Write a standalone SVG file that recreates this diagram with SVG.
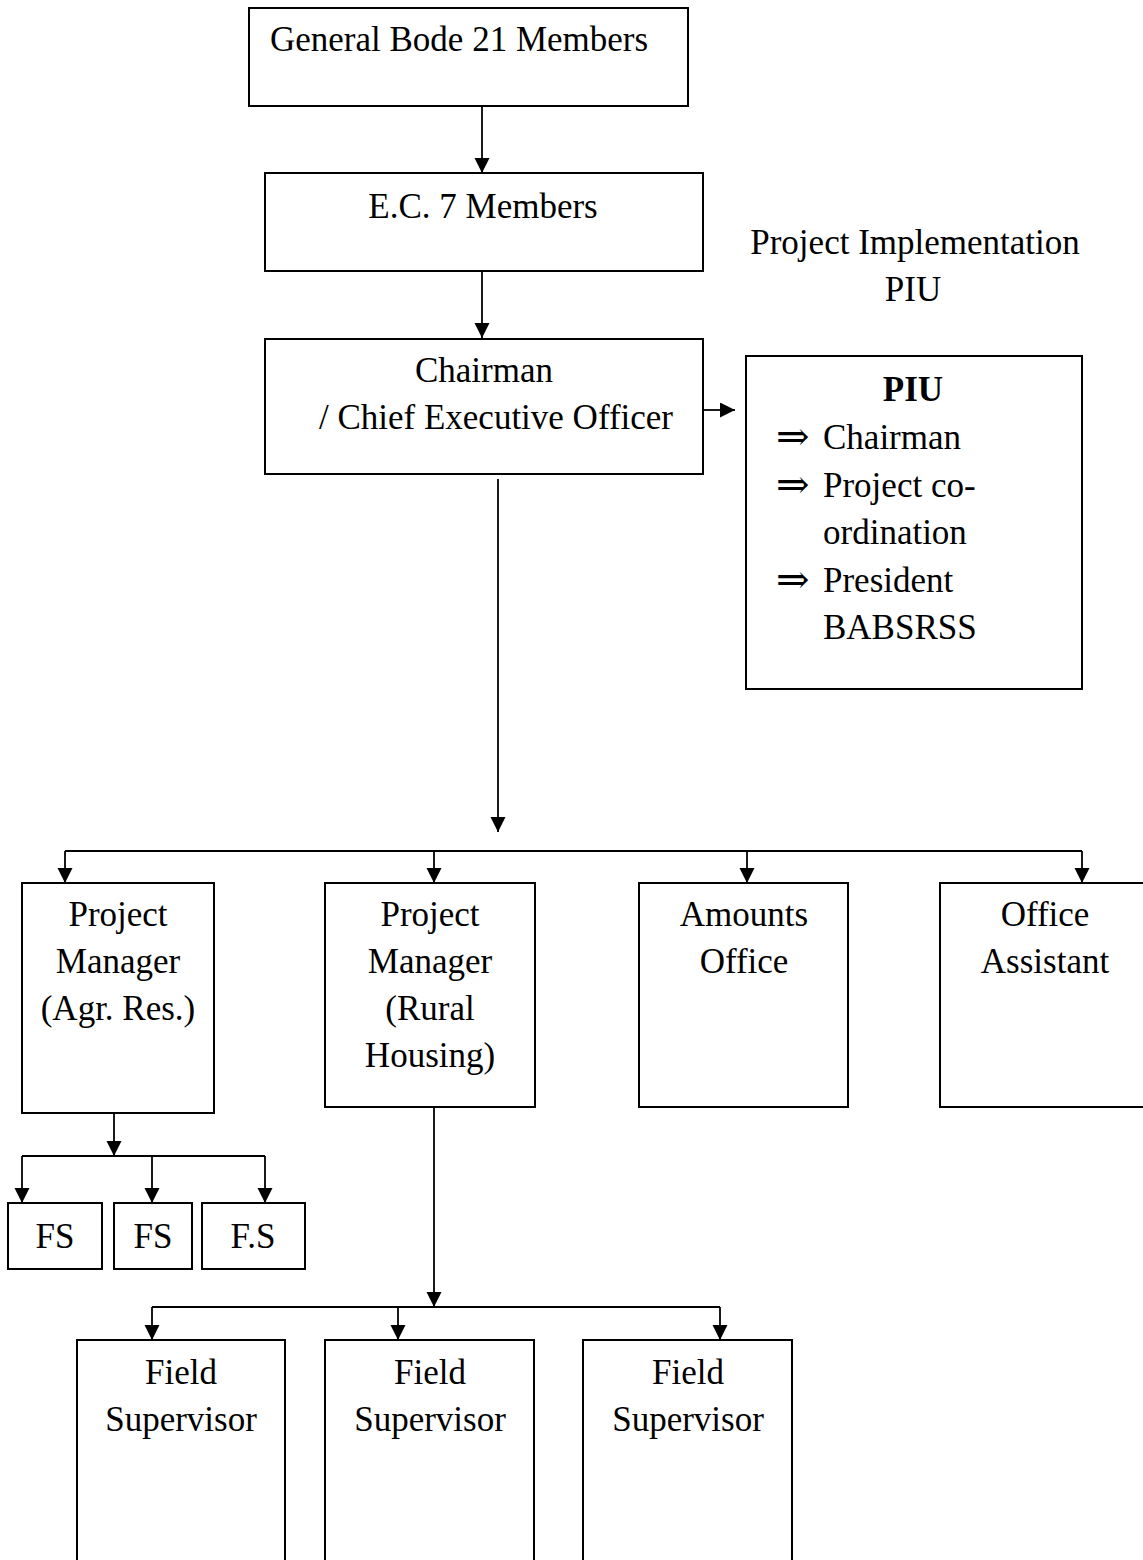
<svg xmlns="http://www.w3.org/2000/svg" width="1143" height="1560" viewBox="0 0 1143 1560">
<defs>
<marker id="ah" markerUnits="userSpaceOnUse" markerWidth="16" markerHeight="16" refX="15" refY="7.5" orient="auto">
<path d="M0,0 L15,7.5 L0,15 z" fill="#000"/>
</marker>
<style>
rect{fill:#fff;stroke:#000;stroke-width:2}
.c path{fill:none;stroke:#000;stroke-width:1.8}
.a{marker-end:url(#ah)}
text{font-family:"Liberation Serif","Times New Roman",serif;font-size:35px;fill:#000}
.m{text-anchor:middle}
.b{font-weight:bold}
.sym{font-family:"DejaVu Serif","Liberation Serif",serif;font-size:40px}
</style>
</defs>
<rect x="0" y="0" width="1143" height="1560" style="stroke:none"/>
<g class="c" id="connectors">
<path class="a" d="M482,106 V173"/>
<path class="a" d="M482,271 V338"/>
<path class="a" d="M703,410 H735"/>
<path class="a" d="M498,479 V832"/>
<path d="M65,851 H1082"/>
<path class="a" d="M65,851 V883"/>
<path class="a" d="M434,851 V883"/>
<path class="a" d="M747,851 V883"/>
<path class="a" d="M1082,851 V883"/>
<path class="a" d="M114,1114 V1156"/>
<path d="M22,1156 H265"/>
<path class="a" d="M22,1156 V1203"/>
<path class="a" d="M152,1156 V1203"/>
<path class="a" d="M265,1156 V1203"/>
<path class="a" d="M434,1107 V1307"/>
<path d="M152,1307 H720"/>
<path class="a" d="M152,1307 V1340"/>
<path class="a" d="M398,1307 V1340"/>
<path class="a" d="M720,1307 V1340"/>
</g>
<g id="general-body">
<rect x="249" y="8" width="439" height="98"/>
<text x="270" y="51">General Bode 21 Members</text>
</g>
<g id="ec">
<rect x="265" y="173" width="438" height="98"/>
<text class="m" x="483" y="218">E.C. 7 Members</text>
</g>
<g id="piu-label">
<text class="m" x="915" y="254">Project Implementation</text>
<text class="m" x="913" y="301">PIU</text>
</g>
<g id="chairman">
<rect x="265" y="339" width="438" height="135"/>
<text class="m" x="484" y="382">Chairman</text>
<text class="m" x="496" y="429">/ Chief Executive Officer</text>
</g>
<g id="piu">
<rect x="746" y="356" width="336" height="333"/>
<text class="m b" x="913" y="401">PIU</text>
<text class="sym" x="776" y="450">⇒</text>
<text x="823" y="449">Chairman</text>
<text class="sym" x="776" y="498">⇒</text>
<text x="823" y="497">Project co-</text>
<text x="823" y="544">ordination</text>
<text class="sym" x="776" y="593">⇒</text>
<text x="823" y="592">President</text>
<text x="823" y="639">BABSRSS</text>
</g>
<g id="pm-agr">
<rect x="22" y="883" width="192" height="230"/>
<text class="m" x="118" y="926">Project</text>
<text class="m" x="118" y="973">Manager</text>
<text class="m" x="118" y="1020">(Agr. Res.)</text>
</g>
<g id="pm-rural">
<rect x="325" y="883" width="210" height="224"/>
<text class="m" x="430" y="926">Project</text>
<text class="m" x="430" y="973">Manager</text>
<text class="m" x="430" y="1020">(Rural</text>
<text class="m" x="430" y="1067">Housing)</text>
</g>
<g id="amounts">
<rect x="639" y="883" width="209" height="224"/>
<text class="m" x="744" y="926">Amounts</text>
<text class="m" x="744" y="973">Office</text>
</g>
<g id="office-assistant">
<rect x="940" y="883" width="220" height="224"/>
<text class="m" x="1045" y="926">Office</text>
<text class="m" x="1045" y="973">Assistant</text>
</g>
<g id="fs1">
<rect x="8" y="1203" width="94" height="66"/>
<text class="m" x="55" y="1248">FS</text>
</g>
<g id="fs2">
<rect x="114" y="1203" width="78" height="66"/>
<text class="m" x="153" y="1248">FS</text>
</g>
<g id="fs3">
<rect x="202" y="1203" width="103" height="66"/>
<text class="m" x="253" y="1248">F.S</text>
</g>
<g id="field1">
<rect x="77" y="1340" width="208" height="240"/>
<text class="m" x="181" y="1384">Field</text>
<text class="m" x="181" y="1431">Supervisor</text>
</g>
<g id="field2">
<rect x="325" y="1340" width="209" height="240"/>
<text class="m" x="430" y="1384">Field</text>
<text class="m" x="430" y="1431">Supervisor</text>
</g>
<g id="field3">
<rect x="583" y="1340" width="209" height="240"/>
<text class="m" x="688" y="1384">Field</text>
<text class="m" x="688" y="1431">Supervisor</text>
</g>
</svg>
